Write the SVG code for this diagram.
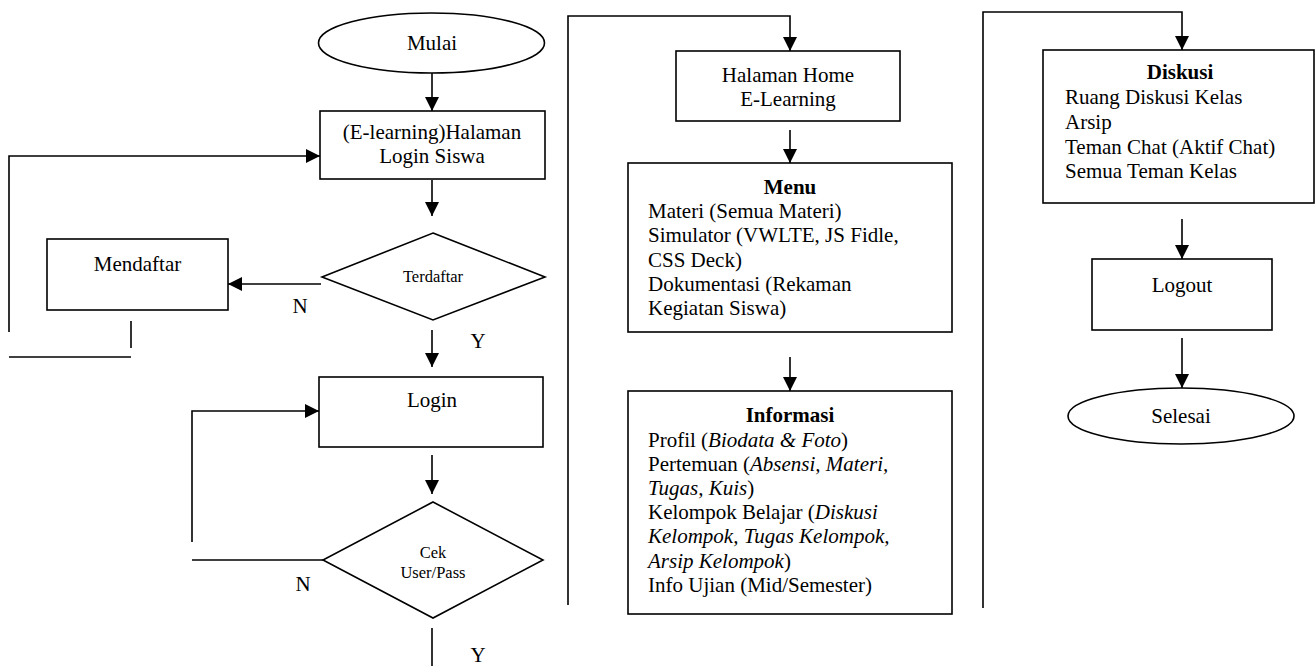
<svg xmlns="http://www.w3.org/2000/svg" width="1316" height="666" viewBox="0 0 1316 666">
  <style>
    .shape { fill: #ffffff; stroke: #000000; stroke-width: 1.6; }
    .line { fill: none; stroke: #000000; stroke-width: 1.6; }
    .arrow { fill: none; stroke: #000000; stroke-width: 1.6; marker-end: url(#head); }
    text { font-family: "Liberation Serif", "Times New Roman", serif; font-size: 21px; fill: #000000; }
    .c { text-anchor: middle; }
    .small { font-size: 16.5px; }
    .b { font-weight: bold; }
    .i { font-style: italic; }
  </style>
  <defs>
    <marker id="head" markerUnits="userSpaceOnUse" markerWidth="15" markerHeight="15" refX="14" refY="7" orient="auto">
      <path d="M0,0 L14,7 L0,14 z" fill="#000000"/>
    </marker>
  </defs>

  <!-- connectors -->
  <g id="connectors">
    <line class="arrow" x1="432" y1="73" x2="432" y2="111"/>
    <line class="arrow" x1="432" y1="180" x2="432" y2="216"/>
    <line class="arrow" x1="321" y1="284" x2="228" y2="284"/>
    <line class="arrow" x1="432" y1="330" x2="432" y2="367"/>
    <line class="arrow" x1="432" y1="455" x2="432" y2="494"/>
    <line class="line" x1="432" y1="628" x2="432" y2="666"/>
    <!-- Mendaftar loops back to the login page -->
    <line class="line" x1="131" y1="321" x2="131" y2="348"/>
    <line class="line" x1="9" y1="357" x2="131" y2="357"/>
    <polyline class="arrow" points="9,332 9,156 320,156"/>
    <!-- failed check loops back to Login -->
    <line class="line" x1="323" y1="560" x2="192" y2="560"/>
    <polyline class="arrow" points="192,542 192,411 319,411"/>
    <!-- column continuations -->
    <polyline class="arrow" points="568,605 568,16 790,16 790,51"/>
    <line class="arrow" x1="790" y1="130" x2="790" y2="163"/>
    <line class="arrow" x1="790" y1="357" x2="790" y2="391"/>
    <polyline class="arrow" points="983,608 983,12 1182,12 1182,50"/>
    <line class="arrow" x1="1182" y1="219" x2="1182" y2="259"/>
    <line class="arrow" x1="1182" y1="338" x2="1182" y2="388"/>
    <!-- branch labels -->
    <text class="c" x="300" y="313">N</text>
    <text class="c" x="478" y="348">Y</text>
    <text class="c" x="303" y="591">N</text>
    <text class="c" x="478" y="662">Y</text>
  </g>

  <g id="mulai">
    <ellipse class="shape" cx="431.5" cy="43" rx="113" ry="30"/>
    <text class="c" x="432" y="50">Mulai</text>
  </g>

  <g id="halaman-login">
    <rect class="shape" x="320" y="111" width="225" height="68"/>
    <text class="c" x="432" y="139">(E-learning)Halaman</text>
    <text class="c" x="432" y="163">Login Siswa</text>
  </g>

  <g id="terdaftar">
    <polygon class="shape" points="433,233 545,277 433,320 322,277"/>
    <text class="c small" x="433" y="282">Terdaftar</text>
  </g>

  <g id="mendaftar">
    <rect class="shape" x="47" y="239" width="181" height="71"/>
    <text class="c" x="137.5" y="271">Mendaftar</text>
  </g>

  <g id="login">
    <rect class="shape" x="319" y="377" width="224" height="70"/>
    <text class="c" x="432" y="407">Login</text>
  </g>

  <g id="cek">
    <polygon class="shape" points="433,502 543,560 433,618 323,560"/>
    <text class="c small" x="433" y="558">Cek</text>
    <text class="c small" x="433" y="578">User/Pass</text>
  </g>

  <g id="home">
    <rect class="shape" x="676" y="51" width="224" height="70"/>
    <text class="c" x="788" y="82">Halaman Home</text>
    <text class="c" x="788" y="106">E-Learning</text>
  </g>

  <g id="menu">
    <rect class="shape" x="628" y="163" width="324" height="169"/>
    <text class="c b" x="790" y="194">Menu</text>
    <text x="648" y="218">Materi (Semua Materi)</text>
    <text x="648" y="242">Simulator (VWLTE, JS Fidle,</text>
    <text x="648" y="267">CSS Deck)</text>
    <text x="648" y="291">Dokumentasi (Rekaman</text>
    <text x="648" y="315">Kegiatan Siswa)</text>
  </g>

  <g id="informasi">
    <rect class="shape" x="628" y="391" width="324" height="223"/>
    <text class="c b" x="790" y="422">Informasi</text>
    <text x="648" y="447">Profil (<tspan class="i">Biodata &amp; Foto</tspan>)</text>
    <text x="648" y="471">Pertemuan (<tspan class="i">Absensi, Materi,</tspan></text>
    <text x="648" y="495"><tspan class="i">Tugas, Kuis</tspan>)</text>
    <text x="648" y="519">Kelompok Belajar (<tspan class="i">Diskusi</tspan></text>
    <text x="648" y="543" class="i">Kelompok, Tugas Kelompok,</text>
    <text x="648" y="568"><tspan class="i">Arsip Kelompok</tspan>)</text>
    <text x="648" y="592">Info Ujian (Mid/Semester)</text>
  </g>

  <g id="diskusi">
    <rect class="shape" x="1043" y="50" width="271" height="153"/>
    <text class="c b" x="1180" y="79">Diskusi</text>
    <text x="1065" y="104">Ruang Diskusi Kelas</text>
    <text x="1065" y="129">Arsip</text>
    <text x="1065" y="154">Teman Chat (Aktif Chat)</text>
    <text x="1065" y="178">Semua Teman Kelas</text>
  </g>

  <g id="logout">
    <rect class="shape" x="1092" y="259" width="180" height="71"/>
    <text class="c" x="1182" y="292">Logout</text>
  </g>

  <g id="selesai">
    <ellipse class="shape" cx="1181" cy="416" rx="113" ry="28"/>
    <text class="c" x="1181" y="423">Selesai</text>
  </g>
</svg>
